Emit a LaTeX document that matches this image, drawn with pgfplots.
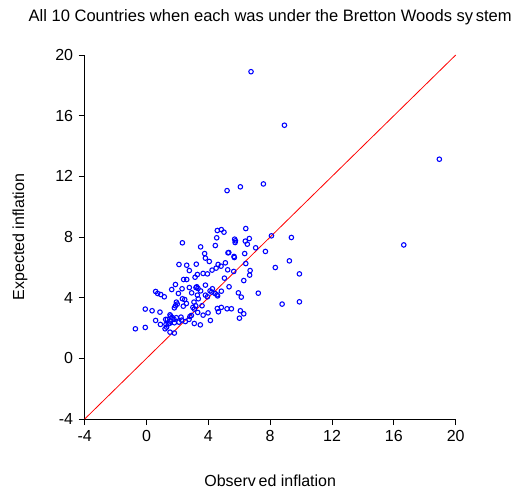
\documentclass[border=0pt]{standalone}
\usepackage{fontspec}
\setmainfont{Liberation Sans}
\usepackage{pgfplots}
\pgfplotsset{compat=1.18}
\usepackage{pgfplotstable}

\pgfplotstableread{
x y
6.76 18.90
8.92 15.37
18.94 13.13
5.21 11.06
6.07 11.31
7.56 11.50
16.64 7.48
4.58 8.43
4.84 8.49
5.01 8.32
6.42 8.56
4.54 7.95
5.70 7.86
5.75 7.75
5.73 7.64
6.65 7.90
6.39 7.73
6.52 7.53
8.08 8.08
9.37 7.97
2.32 7.62
3.50 7.35
4.45 7.44
7.06 7.29
7.69 7.05
5.27 6.96
5.32 6.98
3.76 6.91
3.81 6.61
6.35 6.91
5.66 6.72
5.68 6.65
4.06 6.39
2.10 6.19
2.60 6.14
3.22 6.21
5.10 6.30
4.63 6.19
4.82 6.08
6.42 6.25
9.24 6.43
8.33 5.99
2.77 5.79
4.50 5.95
4.24 5.82
5.25 5.84
5.64 5.73
6.70 5.79
6.67 5.49
9.89 5.57
3.29 5.53
3.14 5.35
3.66 5.60
3.94 5.57
2.40 5.20
2.60 5.20
5.04 5.29
6.29 5.13
1.87 4.87
3.81 4.83
3.25 4.72
3.20 4.67
2.77 4.67
3.33 4.61
2.30 4.59
1.63 4.54
4.26 4.59
5.34 4.72
0.59 4.41
0.72 4.28
0.92 4.21
1.15 4.06
2.06 4.28
2.92 4.32
3.50 4.45
4.11 4.45
4.22 4.37
4.43 4.28
4.56 4.19
4.60 4.12
4.84 4.43
5.94 4.32
6.13 4.04
7.23 4.30
3.81 4.17
3.94 4.06
3.29 4.17
3.35 3.93
2.32 3.93
2.47 3.88
2.58 3.62
1.99 3.58
1.93 3.71
1.87 3.47
1.80 3.33
3.07 3.71
3.18 3.47
3.59 3.47
3.00 3.36
2.38 3.44
3.09 3.25
-0.08 3.25
0.36 3.14
0.87 3.05
4.58 3.29
4.84 3.36
5.21 3.27
5.49 3.27
4.65 3.07
6.07 3.14
6.29 2.94
3.98 3.00
3.31 3.03
3.66 2.85
2.90 2.83
2.81 2.76
8.77 3.58
9.89 3.73
0.59 2.50
1.24 2.57
1.35 2.57
1.52 2.87
1.56 2.79
1.65 2.70
1.78 2.57
1.93 2.68
2.23 2.72
2.27 2.52
2.10 2.39
2.51 2.43
2.75 2.57
3.09 2.30
3.48 2.21
4.13 2.50
6.01 2.65
0.90 2.24
1.26 2.24
1.41 2.28
1.50 2.32
1.52 2.46
1.20 1.95
1.30 2.06
-0.72 1.95
-0.08 2.04
1.52 1.73
1.80 1.67
1.80 2.35
}\obsexp

\begin{document}
\fontsize{12}{14}\selectfont
\begin{tikzpicture}
\begin{axis}[
    scale only axis,
    width=278.25pt, height=273pt,
    xmin=-4, xmax=20, ymin=-4, ymax=20,
    axis x line=bottom, axis y line=left,
    axis line style={-, line width=0.75pt},
    tick align=outside,
    major tick length=4.5pt,
    tick style={line width=0.75pt, black},
    xtick={-4,0,4,8,12,16,20},
    ytick={-4,0,4,8,12,16,20},
    xticklabels={-4,0,4,8,12,16,20},
    yticklabels={-4,0,4,8,12,16,20},
    ticklabel style={font=\fontsize{12}{14}\selectfont},
    clip=false,
]
\addplot[red, line width=0.6pt] coordinates {(-4,-4) (20,20)};
\addplot[only marks, mark=o, mark size=1.7pt, blue,
    mark options={line width=0.8pt}] table {\obsexp};
\end{axis}
\node[font=\fontsize{12.4}{14}\selectfont] at ([yshift=28.3pt]current axis.north)
    {All 10 Countries when each was under the Bretton Woods sy\kern2pt stem};
\node at ([yshift=-46.5pt]current axis.south) {Observ\kern2pt ed inflation};
\node[rotate=90] at ([xshift=-48.5pt]current axis.west) {Expected inflation};
\pgfresetboundingbox
\path ([shift={(-63.5pt,-56.25pt)}]current axis.south west)
    rectangle ([shift={(330.2pt,314.25pt)}]current axis.south west);
\end{tikzpicture}
\end{document}
